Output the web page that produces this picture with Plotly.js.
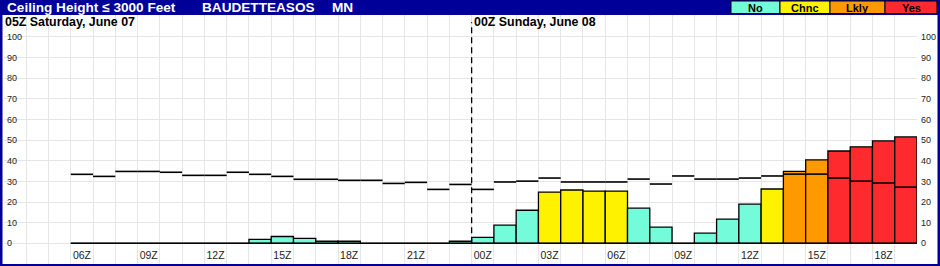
<!DOCTYPE html>
<html><head><meta charset="utf-8">
<script src="https://cdn.plot.ly/plotly-3.0.1.min.js"></script>
<style>html,body{margin:0;padding:0;background:#fff;overflow:hidden;} #chart{width:940px;height:266px;}</style>
</head><body><div id="chart"></div><script>
// ---- data (hour offsets from 00Z Saturday June 07) ----
const hours = [6,7,8,9,10,11,12,13,14,15,16,17,18,19,20,21,22,23,24,25,26,27,28,29,30,31,32,33,34,35,36,37,38,39,40,41,42,43];
const probability = [0,0,0,0,0,0,0,0,1.9,3.3,2.4,1.0,1.0,0,0,0,0,1.0,2.9,8.8,16.0,24.8,25.8,25.3,25.3,17.0,7.8,0,4.9,11.7,19.0,26.3,34.8,40.4,44.7,46.7,49.6,51.5];
const referenceLine = [33.4,32.4,34.8,34.8,34.4,32.9,32.9,34.4,33.4,32.4,31.0,31.0,30.5,30.5,29.0,29.5,26.1,28.5,26.1,29.7,30.1,31.6,29.7,29.7,29.7,31.1,28.7,32.6,31.1,31.1,31.6,32.6,33.5,33.5,31.6,30.1,29.2,27.2];
const category = [0,0,0,0,0,0,0,0,0,0,0,0,0,0,0,0,0,0,0,0,0,1,1,1,1,0,0,0,0,0,0,1,2,2,3,3,3,3];
const catNames = ["No","Chnc","Lkly","Yes"];
const catColors = ["#74FCDA","#FFF200","#FF9900","#FF2A2E"];
const tickHours = [6,9,12,15,18,21,24,27,30,33,36,39,42];
const tickLabels = ["06Z","09Z","12Z","15Z","18Z","21Z","00Z","03Z","06Z","09Z","12Z","15Z","18Z"];
const yTicks = [0,10,20,30,40,50,60,70,80,90,100];
const dayBoundary = 24;
const titleParts = ["Ceiling Height \u2264 3000 Feet","BAUDETTEASOS","MN"];
const dayLabels = ["05Z Saturday, June 07","00Z Sunday, June 08"];

// ---- layout geometry ----
const W=940,H=266,ML=4,MR=23,MT=15,MB=2;
const PW=W-ML-MR, PH=H-MT-MB;
const fx = px => (px-ML)/PW;
const fy = py => (H-MB-py)/PH;
const xRange=[3,44];
const yMin = -(H-MB-243.3)/2.065;
const yRange=[yMin, yMin + PH/2.065];
const FONT='"Liberation Sans", Arial, sans-serif';
const BLUE='#000099';
const GRID='#E6E6E6';

const barX = hours.map(h=>h+0.5);
const lineX=[], lineY=[];
hours.forEach((h,i)=>{ lineX.push(h,h+1,null); lineY.push(referenceLine[i],referenceLine[i],null); });

const traces = [
  {type:'bar', x:barX, y:probability, width:1,
   marker:{color:category.map(c=>catColors[c]), line:{color:'#000',width:1.3}},
   hoverinfo:'skip', showlegend:false},
  {type:'scatter', mode:'lines', x:[hours[0], hours[hours.length-1]+1], y:[0,0], yaxis:'y2',
   line:{color:'#000',width:1.6}, hoverinfo:'skip', showlegend:false},
  {type:'scatter', mode:'lines', x:lineX, y:lineY, connectgaps:false,
   line:{color:'#000',width:1.6}, hoverinfo:'skip', showlegend:false}
];

const shapes = [
  {type:'rect', xref:'paper', yref:'paper', x0:fx(0), x1:fx(W), y0:fy(15), y1:fy(0), fillcolor:BLUE, line:{width:0}, layer:'above'},
  {type:'rect', xref:'paper', yref:'paper', x0:fx(0), x1:fx(2.5), y0:fy(H), y1:fy(0), fillcolor:BLUE, line:{width:0}, layer:'above'},
  {type:'rect', xref:'paper', yref:'paper', x0:fx(937.5), x1:fx(W), y0:fy(H), y1:fy(0), fillcolor:BLUE, line:{width:0}, layer:'above'},
  {type:'rect', xref:'paper', yref:'paper', x0:fx(0), x1:fx(W), y0:fy(H), y1:fy(264), fillcolor:BLUE, line:{width:0}, layer:'above'},
  {type:'line', xref:'x', yref:'y', x0:dayBoundary, x1:dayBoundary, y0:0, y1:107, line:{color:'#000',width:1.3,dash:'6px,4px'}}
];

const annotations = [];
const titleX=[5,200,330];
titleParts.forEach((t,i)=>annotations.push({text:t, xref:'paper', yref:'paper', x:fx(titleX[i]), y:fy(7.5), xanchor:'left', yanchor:'middle', showarrow:false, font:{family:FONT,size:13.6,color:'#fff',weight:'bold'}}));
annotations.push({text:dayLabels[0], xref:'paper', yref:'paper', x:fx(2.5), y:fy(21.5), xanchor:'left', yanchor:'middle', showarrow:false, font:{family:FONT,size:12.4,color:'#000',weight:'bold'}});
annotations.push({text:dayLabels[1], xref:'x', yref:'paper', x:dayBoundary, xshift:0, y:fy(21.5), xanchor:'left', yanchor:'middle', showarrow:false, font:{family:FONT,size:12.4,color:'#000',weight:'bold'}});
// legend boxes
const boxEdges=[731,780,830,885,937];
catNames.forEach((n,i)=>{
  shapes.push({type:'rect', xref:'paper', yref:'paper', x0:fx(boxEdges[i]), x1:fx(boxEdges[i+1]), y0:fy(13.5), y1:fy(1), fillcolor:catColors[i], line:{color:'#000',width:1}, layer:'above'});
  annotations.push({text:n, xref:'paper', yref:'paper', x:fx((boxEdges[i]+boxEdges[i+1])/2), y:fy(7.5), xanchor:'center', yanchor:'middle', showarrow:false, font:{family:FONT,size:11,color:'#000',weight:'bold'}});
});

const layout = {
  width:W, height:H, margin:{l:ML,r:MR,t:MT,b:MB,pad:0},
  paper_bgcolor:'#fff', plot_bgcolor:'#fff', bargap:0, showlegend:false,
  font:{family:FONT,size:10,color:'#222'},
  xaxis:{range:xRange, tickmode:'array', tickvals:tickHours.map(h=>h+0.5), ticktext:tickLabels,
         showgrid:false, zeroline:false, showline:false, ticks:'', ticklabelposition:'inside', ticklabelstandoff:0,
         tickfont:{family:FONT,size:10.5,color:'#222'}, automargin:false, fixedrange:true,
         minor:{tickmode:'array', tickvals:Array.from({length:xRange[1]-xRange[0]+1},(_, k)=>xRange[0]+k), showgrid:true, gridcolor:GRID, gridwidth:1, ticks:''}},
  yaxis:{range:yRange, tickmode:'array', tickvals:yTicks, showgrid:true, gridcolor:GRID, gridwidth:1, zeroline:false, showline:false, ticks:'',
         ticklabelposition:'inside', tickfont:{family:FONT,size:9,color:'#222'}, automargin:false, fixedrange:true},
  yaxis2:{range:yRange, overlaying:'y', side:'right', tickmode:'array', tickvals:yTicks, showgrid:false, zeroline:false, showline:false, ticks:'',
         ticklabelstandoff:3, tickfont:{family:FONT,size:9,color:'#222'}, automargin:false, fixedrange:true},
  shapes:shapes, annotations:annotations
};
Plotly.newPlot('chart', traces, layout, {displayModeBar:false, staticPlot:true});
</script></body></html>
